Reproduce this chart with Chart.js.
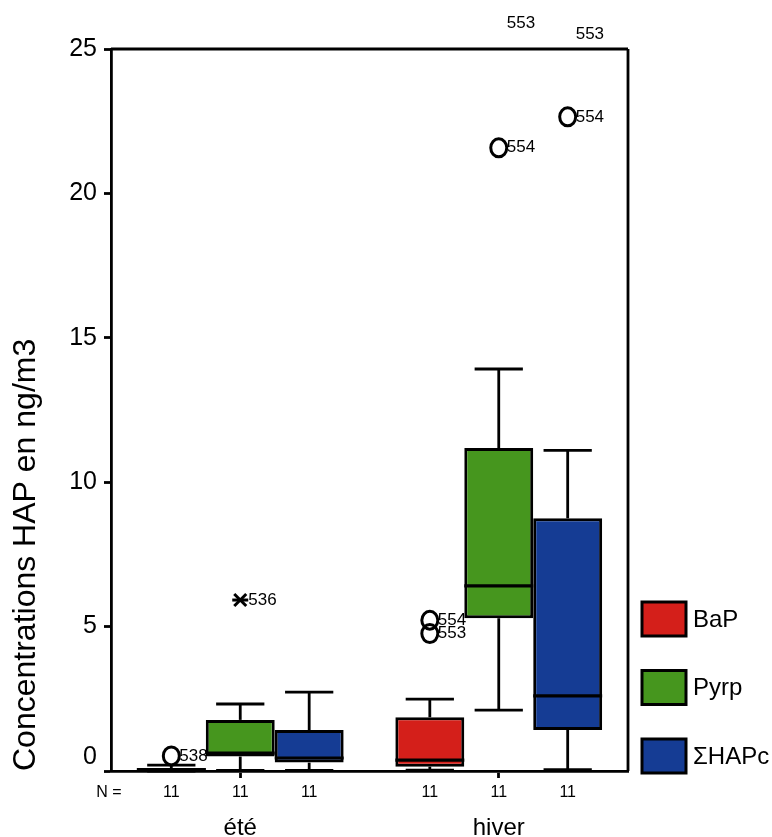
<!DOCTYPE html>
<html lang="fr">
<head>
<meta charset="utf-8">
<title>Concentrations HAP</title>
<script src="https://cdn.jsdelivr.net/npm/chart.js@4.4.1/dist/chart.umd.min.js"></script>
<style>
  html, body { margin: 0; padding: 0; background: #fff; }
  #wrap { position: relative; width: 772px; height: 837px; }
</style>
</head>
<body>
<div id="wrap"><canvas id="chart"></canvas></div>
<script>
// ── data ──

const groups = ["été", "hiver"];
const seriesNames = ["BaP", "Pyrp", "ΣHAPc"];
const seriesColors = ["#d41f1a", "#46961e", "#153c94"];

// [lower whisker, Q1, median, Q3, upper whisker] for été, hiver
const bapStats = [[0.0, 0.0, 0.05, 0.1, 0.2], [0.03, 0.15, 0.38, 1.86, 2.49]];
const pyrpStats = [[0.02, 0.5, 0.62, 1.77, 2.32], [2.11, 5.29, 6.41, 11.18, 13.92]];
const hapcStats = [[0.02, 0.29, 0.45, 1.42, 2.73], [0.05, 1.42, 2.6, 8.75, 11.1]];

const bapN = [11, 11];
const pyrpN = [11, 11];
const hapcN = [11, 11];

// outliers: "o" circle, "*" extreme, "off" = above the axis, label only
const bapOutliers = [
  [{ v: 0.52, id: "538", kind: "o" }],
  [{ v: 5.22, id: "554", kind: "o" }, { v: 4.76, id: "553", kind: "o" }],
];
const pyrpOutliers = [
  [{ v: 5.92, id: "536", kind: "*" }],
  [{ v: 21.58, id: "554", kind: "o" }, { v: 25.9, id: "553", kind: "off" }],
];
const hapcOutliers = [
  [],
  [{ v: 22.65, id: "554", kind: "o" }, { v: 25.5, id: "553", kind: "off" }],
];

const yTicks = { min: 0, max: 25, step: 5 };

const allStats = [bapStats, pyrpStats, hapcStats];
const allN = [bapN, pyrpN, hapcN];
const allOutliers = [bapOutliers, pyrpOutliers, hapcOutliers];

// ── drawing ──

const FONT = "'Liberation Sans', Arial, Helvetica, sans-serif";
Chart.defaults.font.family = FONT;
Chart.defaults.color = "#000";

function line(ctx, x1, y1, x2, y2) {
  ctx.beginPath();
  ctx.moveTo(x1, y1);
  ctx.lineTo(x2, y2);
  ctx.stroke();
}

const boxPlugin = {
  id: "boxWhiskers",

  // whiskers + caps behind the boxes
  beforeDatasetsDraw(chart) {
    const { ctx, scales: { y } } = chart;
    ctx.save();
    ctx.strokeStyle = "#000";
    ctx.lineWidth = 2.8;
    allStats.forEach((stats, i) => {
      chart.getDatasetMeta(i).data.forEach((bar, j) => {
        const [lo, q1, , q3, hi] = stats[j];
        const cap = bar.width * 0.35;
        line(ctx, bar.x, y.getPixelForValue(q3), bar.x, y.getPixelForValue(hi));
        line(ctx, bar.x - cap, y.getPixelForValue(hi), bar.x + cap, y.getPixelForValue(hi));
        line(ctx, bar.x, y.getPixelForValue(q1), bar.x, y.getPixelForValue(lo));
        line(ctx, bar.x - cap, y.getPixelForValue(lo), bar.x + cap, y.getPixelForValue(lo));
      });
    });
    ctx.restore();
  },

  afterDatasetsDraw(chart) {
    const { ctx, chartArea: area, scales: { y } } = chart;
    ctx.save();
    ctx.strokeStyle = "#000";

    // medians
    ctx.lineWidth = 3.2;
    allStats.forEach((stats, i) => {
      chart.getDatasetMeta(i).data.forEach((bar, j) => {
        const py = y.getPixelForValue(stats[j][2]);
        line(ctx, bar.x - bar.width / 2, py, bar.x + bar.width / 2, py);
      });
    });

    // outliers and their case numbers
    ctx.font = `17px ${FONT}`;
    ctx.textAlign = "left";
    ctx.textBaseline = "middle";
    ctx.fillStyle = "#000";
    allOutliers.forEach((outs, i) => {
      chart.getDatasetMeta(i).data.forEach((bar, j) => {
        outs[j].forEach((o) => {
          const py = y.getPixelForValue(o.v);
          ctx.lineWidth = 3;
          if (o.kind === "o") {
            ctx.beginPath();
            ctx.ellipse(bar.x, py, 8, 9, 0, 0, Math.PI * 2);
            ctx.stroke();
          } else if (o.kind === "*") {
            ctx.lineWidth = 3;
            line(ctx, bar.x - 8, py, bar.x + 8, py);
            line(ctx, bar.x - 6, py - 6, bar.x + 6, py + 6);
            line(ctx, bar.x - 6, py + 6, bar.x + 6, py - 6);
          }
          ctx.fillText(o.id, bar.x + 8, py);
        });
      });
    });

    // top and right frame
    ctx.lineWidth = 2.8;
    line(ctx, area.left, area.top, area.right, area.top);
    line(ctx, area.right, area.top, area.right, area.bottom);

    // N row
    ctx.font = `16px ${FONT}`;
    ctx.textAlign = "center";
    ctx.fillText("N =", area.left - 2, area.bottom + 22);
    allN.forEach((ns, i) => {
      chart.getDatasetMeta(i).data.forEach((bar, j) => {
        ctx.fillText(String(ns[j]), bar.x, area.bottom + 22);
      });
    });

    // legend, bottom aligned to the plot
    ctx.font = `24px ${FONT}`;
    ctx.textAlign = "left";
    const lx = area.right + 14;
    chart.data.datasets.forEach((ds, i) => {
      const top = area.bottom + 2 - 34 - (chart.data.datasets.length - 1 - i) * 68.5;
      ctx.fillStyle = ds.backgroundColor;
      ctx.fillRect(lx, top, 44, 34);
      ctx.lineWidth = 3;
      ctx.strokeRect(lx, top, 44, 34);
      ctx.fillStyle = "#000";
      ctx.fillText(ds.label, lx + 51, top + 18);
    });

    ctx.restore();
  },
};

new Chart(document.getElementById("chart"), {
  type: "bar",
  data: {
    labels: groups,
    datasets: seriesNames.map((name, i) => ({
      label: name,
      data: allStats[i].map((s) => [s[1], s[3]]),
      backgroundColor: seriesColors[i],
      borderColor: "#000",
      borderWidth: 3,
      borderSkipped: false,
      categoryPercentage: 0.8,
      barPercentage: 1.0,
    })),
  },
  options: {
    responsive: true,
    maintainAspectRatio: false,
    animation: false,
    layout: { padding: { top: 49, right: 144, bottom: 0, left: 0 } },
    plugins: {
      legend: { display: false },
      tooltip: { enabled: false },
    },
    scales: {
      x: {
        grid: {
          offset: false,
          drawOnChartArea: false,
          tickLength: 7,
          tickWidth: 2.8,
          tickColor: "#000",
        },
        border: { color: "#000", width: 2.8 },
        ticks: { color: "#000", font: { size: 24 }, padding: 36 },
        afterFit: (s) => { s.height = 66; },
      },
      y: {
        min: yTicks.min,
        max: yTicks.max,
        grid: {
          drawOnChartArea: false,
          tickLength: 7,
          tickWidth: 2.8,
          tickColor: "#000",
        },
        border: { color: "#000", width: 2.8 },
        ticks: {
          stepSize: yTicks.step,
          color: "#000",
          padding: 7,
          font: { size: 25, lineHeight: 1.12 },
          // the 0 label sits a bit above the axis, as in the original
          callback: (v) => (v === 0 ? ["0", ""] : v),
        },
        title: {
          display: true,
          text: "Concentrations HAP en ng/m3",
          align: "start",
          color: "#000",
          font: { size: 32 },
          padding: { top: 7, bottom: 0 },
        },
        afterFit: (s) => { s.width = 111; },
      },
    },
  },
  plugins: [boxPlugin],
});
</script>
</body>
</html>
